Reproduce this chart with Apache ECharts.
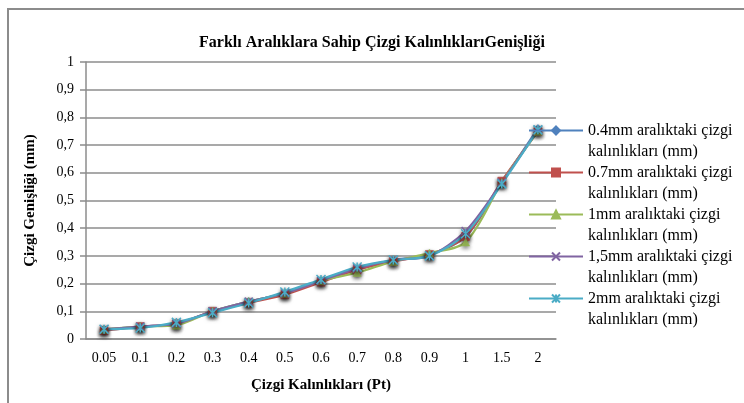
<!DOCTYPE html>
<html>
<head>
<meta charset="utf-8">
<script src="https://cdn.jsdelivr.net/npm/echarts@6/dist/echarts.min.js"></script>
<style>
body { margin: 0; background: #fff; }
#frame { position: absolute; left: 7px; top: 8px; width: 800px; height: 500px; border: 2px solid #8c8c8c; }
#myCharts { position: absolute; left: 0; top: 0; width: 744px; height: 403px; }
</style>
</head>
<body>
<div id="frame"></div>
<div id="myCharts"></div>
<script>
const categories = ['0.05', '0.1', '0.2', '0.3', '0.4', '0.5', '0.6', '0.7', '0.8', '0.9', '1', '1.5', '2']
const names = [
  '0.4mm aralıktaki çizgi kalınlıkları (mm)',
  '0.7mm aralıktaki çizgi kalınlıkları (mm)',
  '1mm aralıktaki çizgi kalınlıkları (mm)',
  '1,5mm aralıktaki çizgi kalınlıkları (mm)',
  '2mm aralıktaki çizgi kalınlıkları (mm)'
]
const s04 = [0.035, 0.045, 0.055, 0.100, 0.135, 0.165, 0.210, 0.250, 0.285, 0.305, 0.370, 0.565, 0.760]
const s07 = [0.030, 0.045, 0.055, 0.100, 0.130, 0.160, 0.205, 0.250, 0.280, 0.305, 0.370, 0.570, 0.750]
const s10 = [0.035, 0.045, 0.050, 0.100, 0.135, 0.165, 0.210, 0.240, 0.280, 0.310, 0.350, 0.565, 0.750]
const s15 = [0.035, 0.045, 0.055, 0.100, 0.135, 0.165, 0.210, 0.255, 0.285, 0.300, 0.390, 0.565, 0.755]
const s20 = [0.035, 0.040, 0.060, 0.095, 0.130, 0.170, 0.215, 0.260, 0.285, 0.300, 0.380, 0.560, 0.755]
const yTicks = ['0', '0,1', '0,2', '0,3', '0,4', '0,5', '0,6', '0,7', '0,8', '0,9', '1']

const myCharts = echarts.init(document.getElementById('myCharts'))
const font = 'Liberation Serif'
const colors = ['#4F81BD', '#C0504D', '#9BBB59', '#8064A2', '#4BACC6']
const symbols = [
  'diamond',
  'rect',
  'triangle',
  'path://M0,0L10,10M10,0L0,10',
  'path://M0,0L10,10M10,0L0,10M5,0L5,10'
]
const sizes = [8, 8, 8, 8, 9]

function mkSeries(i, data) {
  return {
    name: names[i],
    type: 'line',
    data: data,
    smooth: 0.3,
    symbol: symbols[i],
    symbolSize: sizes[i],
    showSymbol: true,
    lineStyle: { color: colors[i], width: 2.2 },
    itemStyle: {
      color: colors[i],
      borderColor: colors[i],
      borderWidth: i >= 3 ? 1.5 : 0.5,
      shadowBlur: 4,
      shadowColor: 'rgba(0,0,0,0.55)',
      shadowOffsetY: 2
    }
  }
}

const options = {
  animation: false,
  color: colors,
  title: {
    text: 'Farklı Aralıklara Sahip Çizgi KalınlıklarıGenişliği',
    left: 'center',
    top: 30,
    textStyle: { fontFamily: font, fontWeight: 'bold', fontSize: 16, color: '#000' }
  },
  legend: {
    orient: 'vertical',
    left: 528,
    top: 99,
    padding: 0,
    itemWidth: 54,
    itemHeight: 10,
    itemGap: -21,
    formatter: function (name) {
      // blank first line keeps the key level with the first text line
      return ' \n' + name.replace(' kalınlıkları', '\nkalınlıkları')
    },
    textStyle: { fontFamily: font, fontSize: 16, color: '#000', lineHeight: 21 },
    data: names
  },
  grid: { left: 86, right: 188, top: 62, bottom: 64 },
  xAxis: {
    type: 'category',
    data: categories,
    boundaryGap: true,
    name: 'Çizgi Kalınlıkları (Pt)',
    nameLocation: 'middle',
    nameGap: 39,
    nameTextStyle: { fontFamily: font, fontWeight: 'bold', fontSize: 15, color: '#000' },
    axisLine: { lineStyle: { color: '#8c8c8c', width: 1.5 } },
    axisTick: { show: false },
    axisLabel: { fontFamily: font, fontSize: 14, color: '#000', margin: 12 }
  },
  yAxis: {
    type: 'value',
    min: 0,
    max: 1,
    interval: 0.1,
    name: 'Çizgi Genişliği (mm)',
    nameLocation: 'middle',
    nameGap: 48,
    nameTextStyle: { fontFamily: font, fontWeight: 'bold', fontSize: 15, color: '#000' },
    axisLine: { show: true, lineStyle: { color: '#8c8c8c', width: 1.5 } },
    axisTick: { show: true, length: 6, lineStyle: { color: '#8c8c8c', width: 1.5 } },
    axisLabel: {
      fontFamily: font, fontSize: 14, color: '#000', margin: 12,
      formatter: function (v) { return yTicks[Math.round(v * 10)] }
    },
    splitLine: { lineStyle: { color: '#8c8c8c', width: 1.5 } }
  },
  series: [
    mkSeries(0, s04),
    mkSeries(1, s07),
    mkSeries(2, s10),
    mkSeries(3, s15),
    mkSeries(4, s20)
  ]
}

myCharts.setOption(options)
</script>
</body>
</html>
